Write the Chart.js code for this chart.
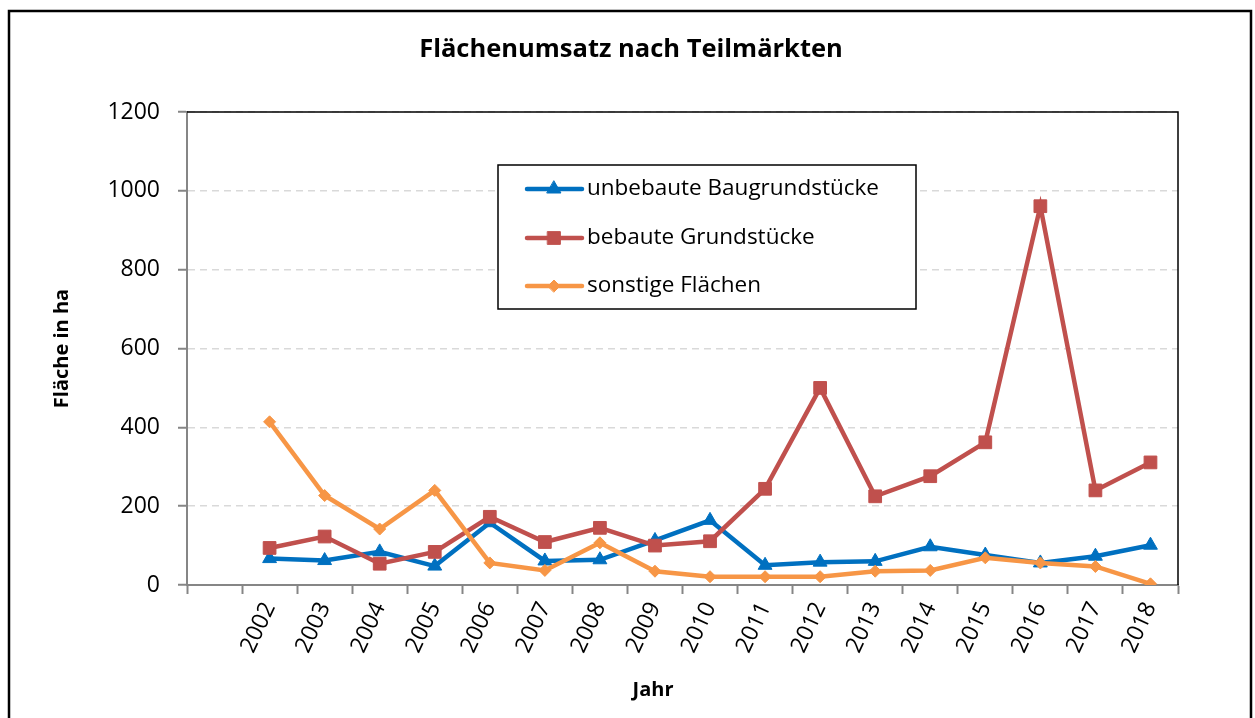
<!DOCTYPE html>
<html>
<head>
<meta charset="utf-8">
<script src="https://cdn.jsdelivr.net/npm/chart.js@4"></script>
<style>
  html, body { margin: 0; padding: 0; background: #fff; }
  #wrap { width: 1255px; height: 718px; }
</style>
</head>
<body>
<div id="wrap"><canvas id="flaechen"></canvas></div>
<script>
// ---- Daten ----
const jahre = ["", "2002", "2003", "2004", "2005", "2006", "2007", "2008", "2009", "2010",
  "2011", "2012", "2013", "2014", "2015", "2016", "2017", "2018"];
const unbebaut = [null, 67, 62, 84, 48, 158, 61, 64, 113, 164, 50, 58, 60, 97, 76, 56, 73, 101];
const bebaut = [null, 94, 123, 54, 84, 173, 109, 145, 100, 111, 244, 500, 225, 276, 362, 961, 240, 311];
const sonstige = [null, 414, 227, 142, 240, 56, 37, 107, 35, 21, 21, 21, 35, 37, 69, 56, 47, 3];
const yTicks = [0, 200, 400, 600, 800, 1000, 1200];

const blau = "#0070C0";
const rot = "#C0504D";
const orange = "#F79646";
const achse = "#868686";

Chart.defaults.font.family = "'Open Sans', sans-serif";
Chart.defaults.color = "#000";

// Rahmen, Titel, Achsentitel unten und Legende im Diagramm
const extras = {
  id: "extras",
  beforeDraw(chart) {
    const ctx = chart.ctx;
    ctx.save();
    ctx.fillStyle = "#fff";
    ctx.fillRect(0, 0, chart.width, chart.height);
    ctx.restore();
  },
  afterDraw(chart) {
    const { ctx, chartArea: a } = chart;
    ctx.save();
    // aeusserer Rahmen
    ctx.strokeStyle = "#000";
    ctx.lineWidth = 2.5;
    ctx.strokeRect(9, 11, 1242, 730);
    // Plotbereich oben/rechts
    ctx.lineWidth = 1.5;
    ctx.beginPath();
    ctx.moveTo(a.left, a.top);
    ctx.lineTo(a.right, a.top);
    ctx.lineTo(a.right, a.bottom);
    ctx.stroke();

    // Titel
    ctx.fillStyle = "#000";
    ctx.textAlign = "center";
    ctx.textBaseline = "middle";
    ctx.font = "bold 25.5px 'Open Sans', sans-serif";
    ctx.fillText("Flächenumsatz nach Teilmärkten", 631, 50);
    ctx.font = "bold 20px 'Open Sans', sans-serif";
    ctx.fillText("Jahr", 653, 690);

    // Legende
    const lx = 498, ly = 165, lw = 418, lh = 144;
    ctx.fillStyle = "#fff";
    ctx.fillRect(lx, ly, lw, lh);
    ctx.strokeStyle = "#000";
    ctx.lineWidth = 1.5;
    ctx.strokeRect(lx, ly, lw, lh);
    const zeilen = [189, 238, 286];
    chart.data.datasets.forEach((ds, i) => {
      const y = zeilen[i];
      ctx.strokeStyle = ds.borderColor;
      ctx.lineWidth = ds.borderWidth;
      ctx.lineCap = "round";
      ctx.beginPath();
      ctx.moveTo(527, y);
      ctx.lineTo(582, y);
      ctx.stroke();
      ctx.fillStyle = ds.borderColor;
      ctx.lineWidth = 1;
      Chart.helpers.drawPoint(ctx, {
        pointStyle: ds.pointStyle, radius: ds.pointRadius, rotation: 0, borderWidth: 1
      }, 554, y);
      ctx.fillStyle = "#000";
      ctx.textAlign = "left";
      ctx.textBaseline = "middle";
      ctx.font = "22.5px 'Open Sans', sans-serif";
      ctx.fillText(ds.label, 587, y);
    });
    ctx.restore();
  }
};

new Chart(document.getElementById("flaechen"), {
  type: "line",
  data: {
    labels: jahre,
    datasets: [{
      label: "unbebaute Baugrundstücke",
      data: unbebaut,
      borderColor: blau,
      backgroundColor: blau,
      borderWidth: 4.5,
      pointStyle: "triangle",
      pointRadius: 8,
      pointBorderWidth: 1,
      tension: 0,
      order: 3
    }, {
      label: "bebaute Grundstücke",
      data: bebaut,
      borderColor: rot,
      backgroundColor: rot,
      borderWidth: 4.5,
      pointStyle: "rect",
      pointRadius: 9,
      pointBorderWidth: 1,
      tension: 0,
      order: 2
    }, {
      label: "sonstige Flächen",
      data: sonstige,
      borderColor: orange,
      backgroundColor: orange,
      borderWidth: 4.5,
      pointStyle: "rectRot",
      pointRadius: 6,
      pointBorderWidth: 1,
      tension: 0,
      order: 1
    }]
  },
  options: {
    responsive: true,
    maintainAspectRatio: false,
    animation: false,
    layout: { padding: { top: 112, right: 77, left: 0, bottom: 0 } },
    plugins: {
      legend: { display: false },
      title: { display: false },
      tooltip: { enabled: false }
    },
    scales: {
      x: {
        type: "category",
        offset: true,
        border: { color: achse, width: 2 },
        grid: {
          offset: true,
          drawOnChartArea: false,
          drawTicks: true,
          tickLength: 9,
          tickColor: achse,
          tickWidth: 2
        },
        ticks: {
          autoSkip: false,
          minRotation: 65,
          maxRotation: 65,
          padding: 4,
          font: { size: 23 }
        },
        afterFit(s) { s.height = 133; }
      },
      y: {
        min: 0,
        max: 1200,
        afterBuildTicks(s) { s.ticks = yTicks.map(v => ({ value: v })); },
        border: { color: achse, width: 2, dash: [7, 5] },
        grid: {
          color: "#D9D9D9",
          lineWidth: 1.5,
          tickLength: 9,
          tickColor: achse,
          tickWidth: 2,
          tickBorderDash: []
        },
        ticks: {
          padding: 18,
          font: { size: 23 },
          callback: v => String(v)
        },
        title: {
          display: true,
          text: "Fläche in ha",
          font: { size: 20, weight: "bold" },
          padding: { top: 50, bottom: 0 }
        },
        afterFit(s) { s.width = 187; }
      }
    }
  },
  plugins: [extras]
});
</script>
</body>
</html>
